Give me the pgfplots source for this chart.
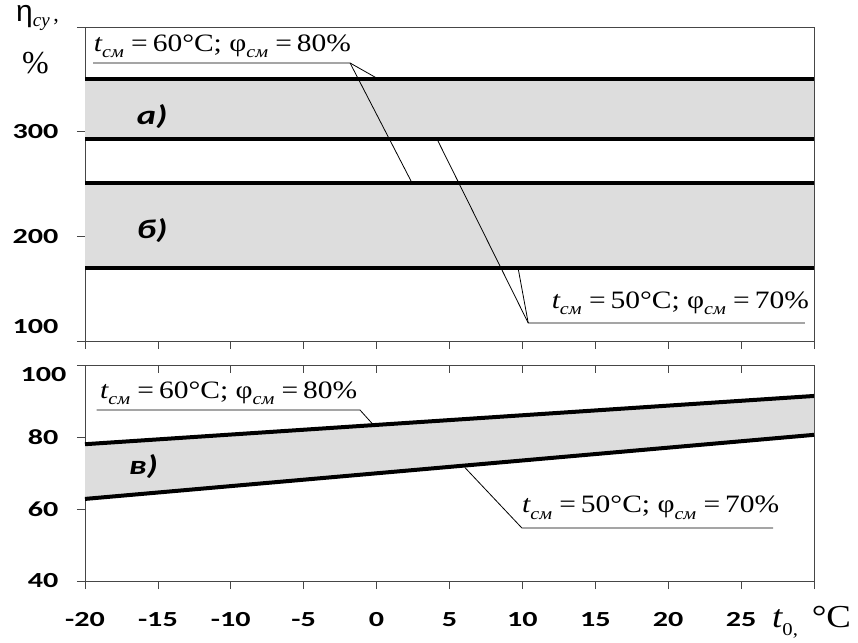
\documentclass[border=0pt]{standalone}
\usepackage{pgfplots}
\pgfplotsset{compat=1.18}
\usepackage{fontspec}
\setmainfont{Liberation Serif}
\setsansfont{Carlito}
\newfontfamily\etafont{Liberation Sans}
\definecolor{band}{RGB}{221,221,221}
\definecolor{frame}{RGB}{70,70,70}
\newcommand{\tk}[1]{\scalebox{1.4}[1]{\sffamily\bfseries\fontsize{21.5}{21.5}\selectfont #1}}
\newcommand{\sub}[1]{\raisebox{-0.55ex}{\fontsize{17}{17}\selectfont\itshape #1}}
\newcommand{\ann}[2]{\scalebox{1.18}[1]{\fontsize{25}{25}\selectfont\itshape t\sub{см}\upshape\ =\,#1°C; φ\sub{см}\ =\,#2\%}}
\newcommand{\lab}[1]{\scalebox{1.35}[1]{\sffamily\bfseries\itshape\fontsize{27}{27}\selectfont #1}}
\tikzset{
  bline/.style={black, line width=4pt},
  leader/.style={black, line width=0.8pt},
}
\pgfplotsset{
  common/.style={
    anchor=south west, scale only axis, width=729pt,
    xmin=-20, xmax=30,
    axis line style={frame, line width=0.9pt},
    tick style={frame, line width=0.8pt},
    major tick length=8pt,
    tick align=outside,
    xtick={-20,-15,...,30},
    ytick pos=left,
    xtick pos=lower,
    clip=false,
    yticklabel style={xshift=-15pt},
    xticklabel style={yshift=-20pt},
  },
}
\begin{document}
\begin{tikzpicture}
\useasboundingbox (0pt,0pt) rectangle (858pt,642pt);
% ---------- top panel ----------
\begin{axis}[common,
  at={(85pt,301pt)}, height=314pt,
  ymin=100, ymax=400,
  xticklabels={},
  ytick={200,300,400},
  yticklabels={\tk{200},\tk{300},{}},
  extra y ticks={100},
  extra y tick labels={\tk{100}},
  extra y tick style={yticklabel style={yshift=14pt}},
]
\addplot[fill=band, draw=none] coordinates {(-20,293) (30,293) (30,350) (-20,350)};
\addplot[fill=band, draw=none] coordinates {(-20,170) (30,170) (30,251) (-20,251)};
\addplot[bline] coordinates {(-20,350) (30,350)};
\addplot[bline] coordinates {(-20,293) (30,293)};
\addplot[bline] coordinates {(-20,251) (30,251)};
\addplot[bline] coordinates {(-20,170) (30,170)};
\node[anchor=center] at (axis cs:-15.4,314) {\lab{а)}};
\node[anchor=center] at (axis cs:-15.4,206) {\lab{б)}};
\node[anchor=base west, inner sep=0pt] at (axis cs:-19.4,377) {\ann{60}{80}};
\draw[leader] (axis cs:-19.45,365.6) -- (axis cs:-1.82,365.6) -- (axis cs:0.16,350);
\draw[leader] (axis cs:-1.82,365.6) -- (axis cs:2.43,251);
\node[anchor=base west, inner sep=0pt] at (axis cs:12.0,131.5) {\ann{50}{70}};
\draw[leader] (axis cs:29.38,117.2) -- (axis cs:10.4,117.2) -- (axis cs:9.70,170);
\draw[leader] (axis cs:10.4,117.2) -- (axis cs:4.14,293);
\end{axis}
% ---------- bottom panel ----------
\begin{axis}[common,
  at={(85pt,61pt)}, height=216pt,
  ymin=40, ymax=100,
  xticklabels={\tk{-20},\tk{-15},\tk{-10},\tk{-5},\tk{0},\tk{5},\tk{10},\tk{15},\tk{20},\tk{25},{}},
  ytick={40,60,80},
  yticklabels={\tk{40},\tk{60},\tk{80}},
  extra y ticks={100},
  extra y tick labels={\tk{100}},
  extra y tick style={yticklabel style={yshift=-10pt, xshift=8pt}},
]
\addplot[fill=band, draw=none] coordinates {(-20,62.8) (30,80.6) (30,91.4) (-20,78)};
\addplot[bline] coordinates {(-20,78) (30,91.4)};
\addplot[bline] coordinates {(-20,62.8) (30,80.6)};
\node[anchor=center] at (axis cs:-16,71.7) {\lab{в)}};
\node[anchor=base west, inner sep=0pt] at (axis cs:-18.97,90.8) {\ann{60}{80}};
\draw[leader] (axis cs:-19.2,87.5) -- (axis cs:-1.14,87.5) -- (axis cs:-0.25,83.5);
\node[anchor=base west, inner sep=0pt] at (axis cs:9.97,58.9) {\ann{50}{70}};
\draw[leader] (axis cs:27.19,54.7) -- (axis cs:9.97,54.7) -- (axis cs:6.06,71.5);
\end{axis}
% overlay: inward ticks on top edge of bottom panel
\begin{axis}[
  at={(85pt,61pt)}, anchor=south west, scale only axis,
  width=729pt, height=216pt,
  xmin=-20, xmax=30, ymin=40, ymax=100,
  axis x line*=top, axis y line=none,
  axis line style={frame, line width=0.9pt, -},
  tick style={frame, line width=0.8pt},
  major tick length=8pt,
  tick align=inside,
  xtick={-20,-15,...,30}, xticklabels={},
  ytick=\empty,
]
\end{axis}
% axis titles
\node[anchor=base west, inner sep=0pt] at (16pt,620pt) {{\etafont\fontsize{30}{30}\selectfont η}\raisebox{-5pt}{\fontsize{19}{19}\selectfont\itshape cy}\fontsize{22}{22}\selectfont\,,};
\node[anchor=base west, inner sep=0pt] at (22pt,568pt) {\fontsize{32}{32}\selectfont\%};
\node[anchor=base west, inner sep=0pt] at (772pt,15pt) {\scalebox{1.15}[1]{\fontsize{32}{32}\selectfont\itshape t\raisebox{-8pt}{\fontsize{18}{18}\selectfont\upshape 0,}\hspace{12pt}\upshape °C}};
\end{tikzpicture}
\end{document}
